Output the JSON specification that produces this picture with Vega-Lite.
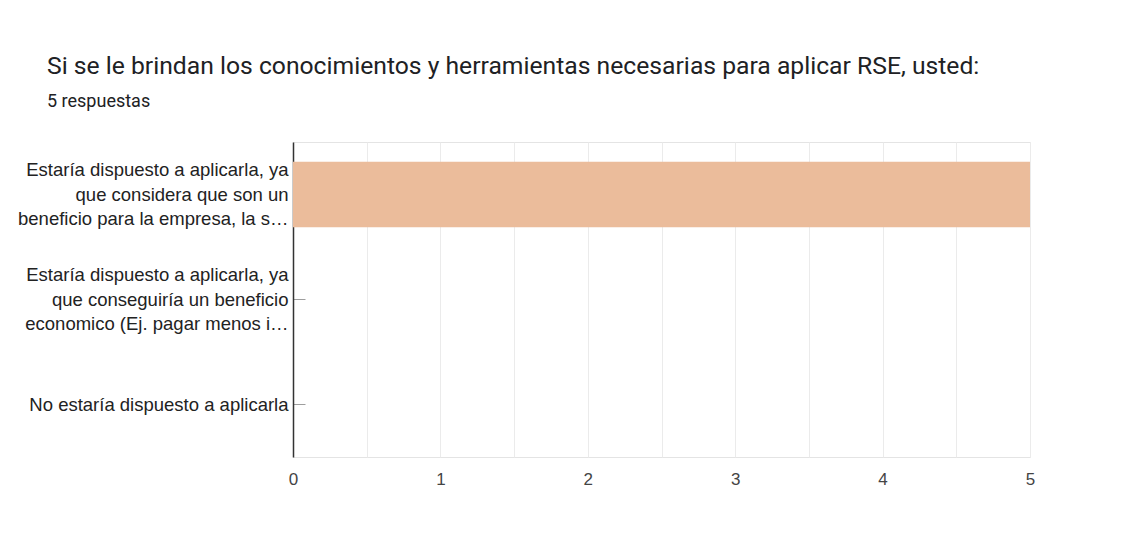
{
  "$schema": "https://vega.github.io/schema/vega-lite/v6.json",
  "autosize": {"type": "none"},
  "padding": {"left": 293, "top": 142, "right": 102, "bottom": 89},
  "width": 737,
  "height": 315,
  "background": "#ffffff",
  "title": {
    "text": "Si se le brindan los conocimientos y herramientas necesarias para aplicar RSE, usted:",
    "subtitle": "5 respuestas",
    "anchor": "start",
    "frame": "group",
    "dx": -246,
    "offset": 31,
    "font": "Roboto",
    "fontSize": 24.7,
    "fontWeight": "normal",
    "color": "#202124",
    "subtitleFont": "Roboto",
    "subtitleFontSize": 18,
    "subtitleColor": "#202124",
    "subtitlePadding": 14.5
  },
  "data": {
    "values": [
      {"opcion": "Estaría dispuesto a aplicarla, ya|que considera que son un|beneficio para la empresa, la s…", "respuestas": 5},
      {"opcion": "Estaría dispuesto a aplicarla, ya|que conseguiría un beneficio|economico (Ej. pagar menos i…", "respuestas": 0},
      {"opcion": "No estaría dispuesto a aplicarla", "respuestas": 0}
    ]
  },
  "mark": {"type": "bar", "color": "#ebbc9b"},
  "encoding": {
    "y": {
      "field": "opcion",
      "type": "nominal",
      "sort": null,
      "scale": {"paddingInner": 0.375, "paddingOuter": 0.1875},
      "axis": {
        "title": null,
        "zindex": 0,
        "labelExpr": "split(datum.label, '|')",
        "labelFont": "Liberation Sans",
        "labelFontSize": 18.5,
        "labelLineHeight": 24.5,
        "labelColor": "#222222",
        "labelLimit": 400,
        "labelAlign": "right",
        "labelBaseline": "middle",
        "labelOffset": {"condition": {"test": "indexof(datum.label, '|') >= 0", "value": -24.5}, "value": 0},
        "labelPadding": 17,
        "tickSize": -12,
        "tickColor": "#9e9e9e",
        "tickWidth": 1,
        "domainColor": "#333333",
        "domainWidth": 1.5,
        "grid": false
      }
    },
    "x": {
      "field": "respuestas",
      "type": "quantitative",
      "scale": {"domain": [0, 5], "nice": false},
      "axis": {
        "title": null,
        "zindex": 0,
        "values": [0, 0.5, 1, 1.5, 2, 2.5, 3, 3.5, 4, 4.5, 5],
        "labelExpr": "datum.value % 1 === 0 ? format(datum.value, 'd') : ''",
        "labelFont": "Liberation Sans",
        "labelFontSize": 17,
        "labelColor": "#444444",
        "labelPadding": 14,
        "labelFlush": false,
        "ticks": false,
        "domain": false,
        "grid": true,
        "gridColor": "#ebebeb",
        "gridWidth": 1
      }
    }
  },
  "config": {
    "view": {"stroke": "#e4e4e4", "strokeWidth": 1}
  }
}
